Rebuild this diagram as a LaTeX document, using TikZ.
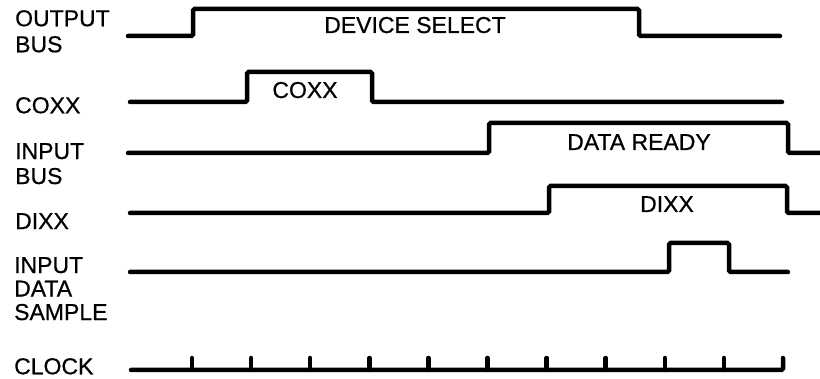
\documentclass[tikz,border=0pt]{standalone}
\usepackage{fontspec}
\setmainfont{Liberation Sans}
\newfontfamily\wavefont[FakeBold=0.6]{Liberation Sans}

\begin{document}
\begin{tikzpicture}[
		x=1pt, y=-1pt,
		signame/.style={
			anchor=north west,
			align=left,
			inner sep=0pt,
			font=\wavefont\fontsize{23}{26}\selectfont
		},
		wavetext/.style={
			anchor=base,
			inner sep=0pt,
			font=\wavefont\fontsize{23}{26}\selectfont
		},
		wave/.style={
			line width=4.5pt,
			line cap=round,
			rounded corners=1.5pt
		}
	]
		\useasboundingbox (0,0) rectangle (820,379);
		
		\node[signame] (OB) at (15,10) {OUTPUT\\BUS};
		\node[signame] (CO) at (15,97) {COXX};
		\node[signame, font=\wavefont\fontsize{23}{25}\selectfont] (IB) at (15,143) {INPUT\\BUS};
		\node[signame] (DI) at (15,213) {DIXX};
		\node[signame, font=\wavefont\fontsize{23}{23.5}\selectfont] (IDS) at (14,257) {INPUT\\DATA\\SAMPLE};
		\node[signame] (CLK) at (14,358) {CLOCK};
		
		\draw[wave] (128,36) -- (193,36) -- (193,9) -- (639,9) -- (639,36) -- (780,36);
		\draw[wave] (130,102) -- (247,102) -- (247,72) -- (372,72) -- (372,102) -- (782,102);
		\draw[wave] (128,153) -- (489,153) -- (489,123) -- (788,123) -- (788,153) -- (822,153);
		\draw[wave] (130,213) -- (549,213) -- (549,186) -- (787,186) -- (787,213) -- (822,213);
		\draw[wave] (130,272) -- (669,272) -- (669,243) -- (729,243) -- (729,272) -- (788,272);
		
		\node[wavetext] (DS) at (415,33) {DEVICE SELECT};
		\node[wavetext] (COT) at (305,98) {COXX};
		\node[wavetext] (DR) at (639,150) {DATA READY};
		\node[wavetext] (DIT) at (667,212) {DIXX};
		
		\draw[wave] (131,370) -- (783,370) -- (783,358);
		\foreach \k in {0,...,9}
			\draw[wave] (192+59.1*\k,370) -- ++(0,-12);
	\end{tikzpicture}
\end{document}
